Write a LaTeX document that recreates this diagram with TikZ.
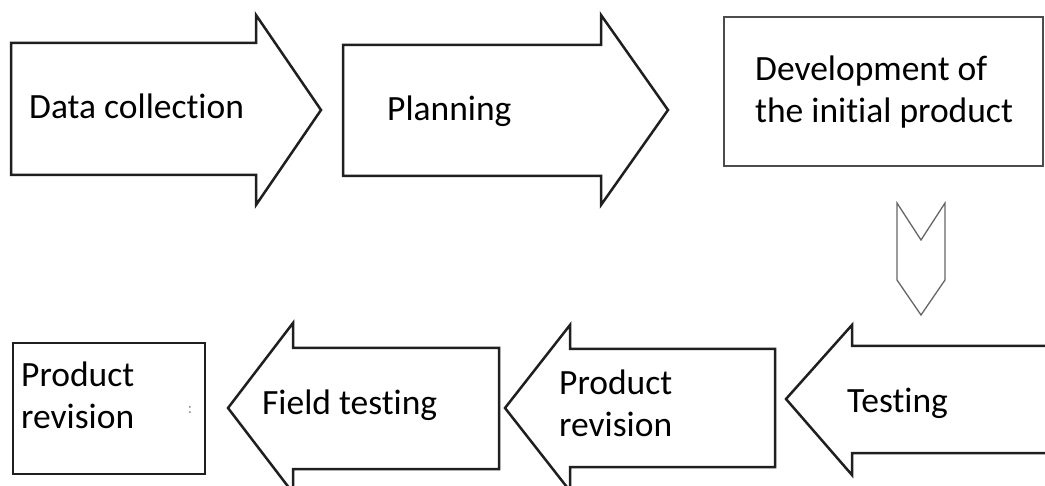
\documentclass[tikz,border=0pt]{standalone}
\usepackage{fontspec}
\setmainfont{Carlito}[Ligatures=CommonOff]
\usepackage{tikz}
\usetikzlibrary{positioning}

\begin{document}
\begin{tikzpicture}[x=1pt, y=-1pt,
    outline/.style={draw=black!88, line width=2.5pt, fill=white},
    plainbox/.style={draw=black!70, line width=1.8pt, fill=white},
    chevron/.style={draw=black!60, line width=1.3pt, fill=white},
    txt/.style={inner sep=0pt, font=\fontsize{35.5}{42}\selectfont, align=left}]
  \useasboundingbox (0,0) rectangle (1045,486);
  \clip (0,0) rectangle (1045,486);

  % top row, arrows point right
  \draw[outline] (11,43) -- (256,43) -- (256,15) -- (321,110) -- (256,205) -- (256,175) -- (11,175) -- cycle;
  \draw[outline] (343,45) -- (601,45) -- (601,15) -- (668,110) -- (601,205) -- (601,176) -- (343,176) -- cycle;
  \draw[plainbox] (724,17) rectangle (1043,166);

  % small down arrow
  \draw[chevron] (897,203) -- (921,240) -- (945,203) -- (945,280) -- (921,315) -- (897,280) -- cycle;

  % bottom row, arrows point left
  \draw[outline] (1060,346) -- (852,346) -- (852,325) -- (786,399) -- (852,475) -- (852,453) -- (1060,453) -- cycle;
  \draw[outline] (775,349) -- (570,349) -- (570,325) -- (505,408) -- (570,491) -- (570,467) -- (775,467) -- cycle;
  \draw[outline] (499,348) -- (293,348) -- (293,323) -- (228,408) -- (293,493) -- (293,469) -- (499,469) -- cycle;
  \draw[outline] (13,343) rectangle (205,474);

  % texts
  \node[txt, anchor=base west] (collect) at (29,119) {Data collection};
  \node[txt, anchor=base west] (plan) at (387,121) {Planning};
  \node[txt, anchor=north west] (develop) at (755,56) {Development of\\the initial product};
  \node[txt, anchor=base west] (test) at (847,413) {Testing};
  \node[txt, anchor=north west] (revise) at (559,370) {Product\\revision};
  \node[txt, anchor=base west] (field) at (262,415) {Field testing};
  \node[txt, anchor=north west] (final) at (21,362) {Product\\revision};
  \node[inner sep=0pt, text=black!45, font=\fontsize{16}{16}\selectfont] (mark) at (190,410) {:};
\end{tikzpicture}
\end{document}
